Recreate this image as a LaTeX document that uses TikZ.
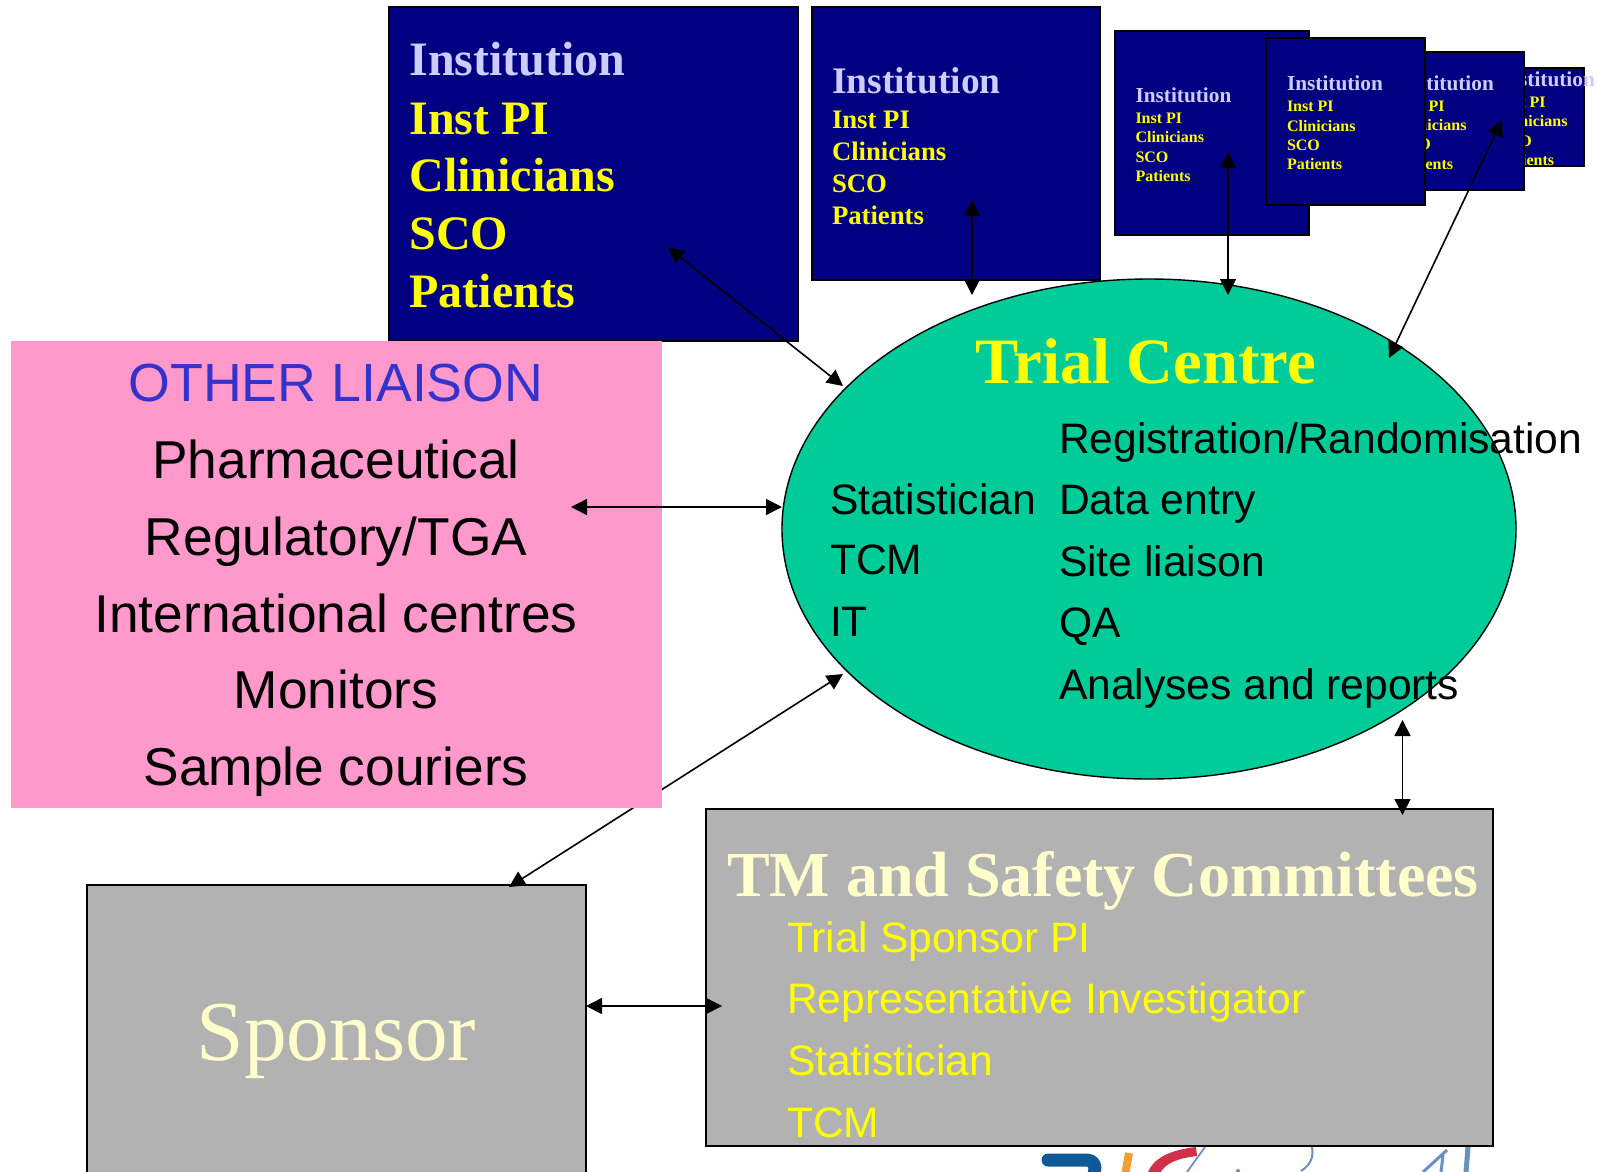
\documentclass[tikz,border=0pt]{standalone}
\usepackage{fontspec}
\setmainfont{Liberation Serif}
\setsansfont{Liberation Sans}
\usetikzlibrary{shapes.geometric,arrows.meta}
\definecolor{navyb}{HTML}{000080}
\definecolor{lilac}{HTML}{CCCCFF}
\definecolor{yel}{HTML}{FFFF00}
\definecolor{cream}{HTML}{FFFFCC}
\definecolor{greenb}{HTML}{00CC99}
\definecolor{pinkb}{HTML}{FF99CC}
\definecolor{grayb}{HTML}{B2B2B2}
\definecolor{bluet}{HTML}{3333CC}
\definecolor{logoblue}{HTML}{0F5A96}
\definecolor{logoorange}{HTML}{F0A030}
\definecolor{logored}{HTML}{D0304A}
\definecolor{logothin}{HTML}{6A8FC0}
\newcommand\pxfont[1]{\fontsize{#1}{#1}\selectfont}
\tikzset{
  box/.style={rectangle,draw=black,line width=1.4pt,inner sep=0,outer sep=0},
  navybox/.style={box,fill=navyb},
  txt/.style={anchor=base west,inner sep=0,outer sep=0},
  ctr/.style={anchor=base,inner sep=0,outer sep=0},
  inst/.style={txt,font=\bfseries\pxfont{#1},text=lilac},
  memb/.style={txt,font=\bfseries\pxfont{#1},text=yel},
  blk/.style={txt,font=\sffamily\pxfont{42.6},text=black},
  pinkt/.style={ctr,font=\sffamily\pxfont{53.3},text=black},
  yelt/.style={txt,font=\sffamily\pxfont{42.6},text=yel},
  link/.style={line width=1.6pt,{Triangle[length=16pt,width=16pt]}-{Triangle[length=16pt,width=16pt]}},
}
\newcommand\boxat[5]{\node[navybox,minimum width=#4 pt-#2 pt,minimum height=#5 pt-#3 pt] (#1) at ({(#2+#4)/2},{(#3+#5)/2}) {};}
\begin{document}
\begin{tikzpicture}[x=1pt,y=-1pt]
\useasboundingbox (0,0) rectangle (1597,1171);
\clip (0,0) rectangle (1597,1171);
\fill[white] (0,0) rectangle (1597,1171);

% logo fragment below the committee box
\draw[logoblue,line width=13pt,line cap=round] (1048,1160) -- (1085,1160) .. controls (1094,1160) and (1098,1165) .. (1092,1180);
\draw[logoorange,line width=8pt] (1129,1153) -- (1125,1175);
\fill[logored] (1147,1175) .. controls (1152,1158) and (1170,1150) .. (1196,1147) -- (1197,1156) .. controls (1180,1158) and (1165,1162) .. (1159,1175) -- cycle;
\draw[logothin,line width=1.8pt] (1205,1147) -- (1187,1172);
\draw[logothin,line width=2pt] (1312,1147) .. controls (1314,1158) and (1310,1165) .. (1301,1171);
\fill[logothin] (1238,1171) circle (2);
\draw[logothin,line width=3pt] (1447,1150) -- (1423,1172);
\draw[logothin,line width=5pt] (1468,1147) -- (1466,1172);
\draw[logothin,line width=3pt] (1443,1155) -- (1441,1172);

% institution boxes
\boxat{boxa}{389}{7}{798}{341}
\node[inst=48] (a1) at (409.5,75.5) {Institution};
\node[memb=48] (a2) at (409.5,134) {Inst PI};
\node[memb=48] (a3) at (409.5,191.5) {Clinicians};
\node[memb=48] (a4) at (409.5,249) {SCO};
\node[memb=48] (a5) at (409.5,307.5) {Patients};

\boxat{boxb}{812}{7}{1100}{280}
\node[inst=37.5] (b1) at (832,93) {Institution};
\node[memb=26.7] (b2) at (832,128) {Inst PI};
\node[memb=26.7] (b3) at (832,160.5) {Clinicians};
\node[memb=26.7] (b4) at (832,192.5) {SCO};
\node[memb=26.7] (b5) at (832,224) {Patients};

\boxat{boxc}{1115}{31}{1309}{235}
\node[inst=21.3] (c1) at (1135.5,102) {Institution};
\node[memb=16] (c2) at (1135.5,123) {Inst PI};
\node[memb=16] (c3) at (1135.5,142) {Clinicians};
\node[memb=16] (c4) at (1135.5,162) {SCO};
\node[memb=16] (c5) at (1135.5,181) {Patients};

\boxat{boxf}{1480}{68}{1584}{166}
\node[inst=21.3] (f1) at (1499,86) {Institution};
\node[memb=16] (f2) at (1499,107) {Inst PI};
\node[memb=16] (f3) at (1499,126) {Clinicians};
\node[memb=16] (f4) at (1499,146) {SCO};
\node[memb=16] (f5) at (1499,165) {Patients};

\boxat{boxe}{1380}{52}{1524}{190}
\node[inst=21.3] (e1) at (1398,90) {Institution};
\node[memb=16] (e2) at (1398,111) {Inst PI};
\node[memb=16] (e3) at (1398,130) {Clinicians};
\node[memb=16] (e4) at (1398,149) {SCO};
\node[memb=16] (e5) at (1398,169) {Patients};

\boxat{boxd}{1266}{38}{1425}{205}
\node[inst=21.3] (d1) at (1287,90) {Institution};
\node[memb=16] (d2) at (1287,111) {Inst PI};
\node[memb=16] (d3) at (1287,131) {Clinicians};
\node[memb=16] (d4) at (1287,150) {SCO};
\node[memb=16] (d5) at (1287,169) {Patients};

% trial centre
\node[ellipse,draw=black,line width=1.4pt,fill=greenb,minimum width=734pt,minimum height=500pt,inner sep=0,outer sep=0] (tc) at (1149,529) {};
\node[ctr,font=\bfseries\pxfont{64.7},text=yel] (tct) at (1145.5,383) {Trial Centre};
\node[blk] (t1) at (1059,453) {Registration/Randomisation};
\node[blk] (t2) at (830,514.5) {Statistician};
\node[blk] (t3) at (1059,514.5) {Data entry};
\node[blk] (t4) at (830,574.5) {TCM};
\node[blk] (t5) at (1059,576) {Site liaison};
\node[blk] (t6) at (830,636) {IT};
\node[blk] (t7) at (1059,637.5) {QA};
\node[blk] (t8) at (1059,699) {Analyses and reports};

% connector endpoints
\coordinate (ea) at (668,247.5);
\coordinate (ta) at (843,386);
\coordinate (eb) at (972,200);
\coordinate (tb) at (972,295);
\coordinate (ec) at (1228,152);
\coordinate (tcc) at (1228,295);
\coordinate (ee) at (1502,120);
\coordinate (te) at (1389,358);
\coordinate (sa) at (509,887);
\coordinate (tsp) at (843,674);
\coordinate (pk) at (571,507);
\coordinate (tp) at (782,507);
\coordinate (tm1) at (1402.5,720);
\coordinate (tm2) at (1402.5,815);
\coordinate (sb) at (586,1006);
\coordinate (tm3) at (722,1006);

% sponsor
\node[box,fill=grayb,minimum width=499pt,minimum height=400pt] (spons) at (336.5,1085) {};
\node[ctr,font=\pxfont{85.3},text=cream] (spt) at (336.5,1060) {Sponsor};

% arrow that passes behind the pink box
\draw[link] (sa) -- (tsp);

% other liaison
\node[rectangle,fill=pinkb,inner sep=0,outer sep=0,minimum width=651pt,minimum height=467pt] (pink) at (336.5,574.5) {};
\node[ctr,font=\sffamily\pxfont{53.7},text=bluet] (p0) at (336,401) {OTHER LIAISON};
\node[pinkt] (p1) at (336,478) {Pharmaceutical};
\node[pinkt] (p2) at (336,555) {Regulatory/TGA};
\node[pinkt] (p3) at (336,632) {International centres};
\node[pinkt] (p4) at (336,708) {Monitors};
\node[pinkt] (p5) at (336,785) {Sample couriers};

% committees
\node[box,fill=grayb,minimum width=787pt,minimum height=337pt] (tm) at (1099.5,977.5) {};
\node[txt,font=\bfseries\pxfont{64},text=cream] (m0) at (727,896) {TM and Safety Committees};
\node[yelt] (m1) at (787,952) {Trial Sponsor PI};
\node[yelt] (m2) at (787,1013.5) {Representative Investigator};
\node[yelt] (m3) at (787,1075.5) {Statistician};
\node[yelt] (m4) at (787,1137) {TCM};

% connectors
\draw[link] (ea) -- (ta);
\draw[link] (eb) -- (tb);
\draw[link] (ec) -- (tcc);
\draw[link] (ee) -- (te);
\draw[link] (pk) -- (tp);
\draw[link] (tm1) -- (tm2);
\draw[link] (sb) -- (tm3);
\end{tikzpicture}
\end{document}
